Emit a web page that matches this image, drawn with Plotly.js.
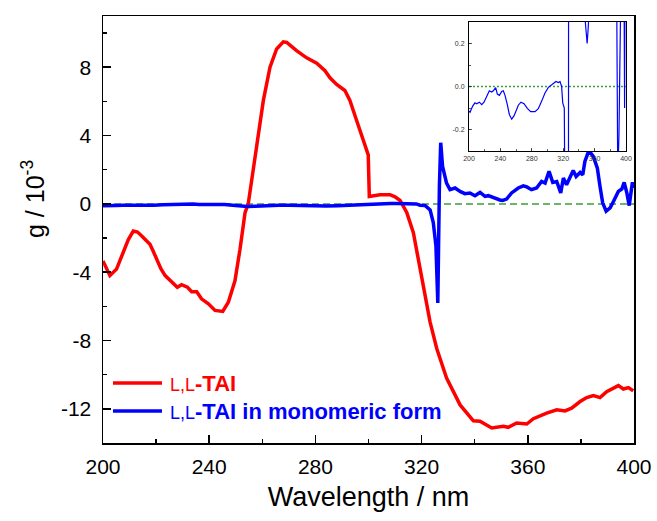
<!DOCTYPE html>
<html>
<head>
<meta charset="utf-8">
<script src="https://cdn.plot.ly/plotly-3.0.1.min.js"></script>
<style>
html,body{margin:0;padding:0;background:#fff;}
#chart{width:657px;height:521px;}
</style>
</head>
<body>
<div id="chart"></div>
<script>
// ---- data ----
const redX = [200, 202.6, 205.1, 207.6, 209.5, 211.4, 213, 214.6, 216.2, 217.7, 219, 220.2, 221.8, 223.4, 225.9, 228, 229.6, 231.8, 233.4, 235.3, 237.1, 239.7, 242.2, 245.1, 247.2, 249.7, 251.6, 253.5, 254.7, 257.2, 260.4, 262.9, 265.4, 267.9, 269.2, 272.9, 276.7, 280.5, 283.6, 285.5, 288, 291.1, 293, 295.5, 298, 299.9, 300.3, 304.3, 308.1, 310, 311.9, 314.4, 316.9, 318.8, 320.7, 323.2, 325.7, 329.4, 334.5, 339.5, 342, 346.4, 350.8, 352.6, 355.8, 359.6, 362.1, 367.1, 370.9, 374, 376.5, 379.7, 382.2, 384.7, 387.2, 389.7, 394.1, 396, 397.9, 399.7];
const redY = [-3.34, -4.2, -3.82, -2.85, -2.1, -1.59, -1.65, -1.88, -2.1, -2.37, -2.8, -3.24, -3.8, -4.2, -4.56, -4.88, -4.73, -4.88, -5.14, -5.14, -5.56, -5.85, -6.24, -6.3, -5.76, -4.5, -2.66, -0.52, 0, 2.77, 6.06, 8.0, 9.07, 9.49, 9.45, 8.97, 8.55, 8.23, 7.8, 7.38, 6.99, 6.64, 6.06, 4.9, 3.74, 2.87, 0.44, 0.54, 0.54, 0.41, 0.2, -0.5, -1.69, -3.24, -4.79, -6.92, -8.47, -10.2, -11.77, -12.7, -12.73, -13.12, -13.02, -13.08, -12.83, -12.89, -12.58, -12.25, -12.06, -12.12, -11.96, -11.57, -11.34, -11.22, -11.34, -10.99, -10.64, -10.84, -10.76, -10.95];

const blueX = [200, 201.3, 204.7, 207.6, 209.7, 213.2, 216.2, 219.1, 222.5, 225.9, 228.9, 231, 234, 236.1, 238.7, 241.6, 243.7, 245.8, 248.8, 251.4, 254.4, 257.3, 259.9, 262.8, 266.2, 270.1, 274.3, 278.6, 284.1, 288.3, 292.6, 296.8, 301.1, 305.4, 308.3, 310.8, 313.8, 316, 318, 319.4, 321.4, 323.2, 324.4, 325.4, 326.1, 326.7, 327.2, 327.9, 329.4, 330.7, 332.6, 334.5, 336.3, 338.2, 340.1, 342, 343.9, 345.1, 347, 349.5, 350.5, 352, 353.9, 356.4, 358.3, 359.6, 361.4, 363.3, 365.2, 366.5, 368, 369.4, 370.9, 372.4, 373.4, 374.6, 377.1, 378.2, 379.7, 380.7, 381.5, 383, 384.7, 386.2, 387.2, 388.2, 389.5, 391, 392.3, 394.1, 395.4, 396.3, 397.3, 398.2, 399.4, 399.8];
const blueY = [-0.114, -0.12, -0.091, -0.076, -0.08, -0.073, -0.084, -0.073, -0.046, -0.02, -0.026, -0.02, -0.005, -0.035, -0.041, -0.023, -0.02, -0.04, -0.084, -0.13, -0.152, -0.137, -0.114, -0.087, -0.073, -0.08, -0.102, -0.117, -0.117, -0.103, -0.068, -0.03, -0.004, 0.008, 0.018, 0.023, 0.018, 0.023, 0.0, -0.076, -0.1, -0.35, -1.1, -2.46, -5.8, 1.0, 3.58, 2.19, 1.22, 0.83, 0.93, 0.73, 0.6, 0.64, 0.48, 0.67, 0.44, 0.48, 0.35, 0.23, 0.2, 0.28, 0.64, 0.93, 1.06, 0.99, 0.83, 0.93, 1.31, 1.22, 1.9, 1.26, 1.31, 0.64, 1.51, 1.12, 1.95, 1.6, 1.84, 1.7, 2.48, 3.12, 2.77, 2.09, 1.02, 0.06, -0.43, -0.23, 0.15, 0.73, 0.87, 1.26, 0.64, -0.1, 1.26, 0.93];

const zeroX = [200, 400];
const zeroY = [0, 0];

// tick labels
const xTickVals = [200, 240, 280, 320, 360, 400];
const xTickText = ['200', '240', '280', '320', '360', '400'];
const yTickVals = [-12, -8, -4, 0, 4, 8];
const yTickText = ['-12', '-8', '-4', '0', '4', '8'];
const insetYTickVals = [-0.2, 0, 0.2];
const insetYTickText = ['-0.2', '0.0', '0.2'];

const seriesNames = ['L,L-TAI', 'L,L-TAI in monomeric form'];
const legendHtml = [
  '<span style="font-size:18px">L,L</span><b>-TAI</b>',
  '<span style="font-size:18px">L,L</span><b>-TAI in monomeric form</b>'
];
const RED = '#ff0000', BLUE = '#0000ff', GREEN = '#3c9e3c';
const FONT = 'Liberation Sans, Arial, Helvetica, sans-serif';

const traces = [
  {x: zeroX, y: zeroY, xaxis: 'x', yaxis: 'y', mode: 'lines', line: {color: GREEN, width: 1.5, dash: '7px,4px'}, showlegend: false},
  {x: redX, y: redY, xaxis: 'x', yaxis: 'y', mode: 'lines', name: seriesNames[0], line: {color: RED, width: 3.5}, showlegend: false},
  {x: blueX, y: blueY, xaxis: 'x', yaxis: 'y', mode: 'lines', name: seriesNames[1], line: {color: BLUE, width: 3.5}, showlegend: false},
  {x: zeroX, y: zeroY, xaxis: 'x2', yaxis: 'y2', mode: 'lines', line: {color: GREEN, width: 1.4, dash: '2px,2px'}, showlegend: false},
  {x: blueX, y: blueY, xaxis: 'x2', yaxis: 'y2', mode: 'lines', line: {color: BLUE, width: 1.2}, showlegend: false}
];

// plot box in px: left 103, right 634, top 16, bottom 443
const L = 103, R = 634, T = 16, B = 443;
const W = R - L, H = B - T;
const px = v => (v - L) / W;
const py = v => (B - v) / H;

const layout = {
  width: 657, height: 521,
  margin: {l: L, r: 657 - R, t: T, b: 521 - B, pad: 0},
  paper_bgcolor: '#fff', plot_bgcolor: '#fff',
  font: {family: FONT, color: '#000'},
  showlegend: false,
  xaxis: {
    domain: [0, 1], anchor: 'y', range: [200, 400],
    tickmode: 'array', tickvals: xTickVals, ticktext: xTickText,
    ticks: 'inside', ticklen: 8, tickwidth: 1.5, tickcolor: '#000',
    showline: true, linewidth: 1.5, linecolor: '#000', mirror: true,
    showgrid: false, zeroline: false,
    minor: {ticks: 'inside', ticklen: 4, tickwidth: 1.5, tick0: 200, dtick: 20, tickcolor: '#000', showgrid: false},
    tickfont: {size: 21, family: FONT, color: '#000'},
    ticklabelstandoff: 4,
    title: {text: 'Wavelength / nm', font: {size: 27, family: FONT, color: '#000'}, standoff: 10}
  },
  yaxis: {
    domain: [0, 1], anchor: 'x', range: [-14, 11],
    tickmode: 'array', tickvals: yTickVals, ticktext: yTickText,
    ticks: 'inside', ticklen: 8, tickwidth: 1.5, tickcolor: '#000',
    showline: true, linewidth: 1.5, linecolor: '#000', mirror: true,
    showgrid: false, zeroline: false,
    minor: {ticks: 'inside', ticklen: 4, tickwidth: 1.5, tick0: 0, dtick: 2, tickcolor: '#000', showgrid: false},
    tickfont: {size: 21, family: FONT, color: '#000'},
    ticklabelstandoff: 6
  },
  xaxis2: {
    domain: [px(469), px(626)], anchor: 'y2', range: [200, 400],
    tickmode: 'array', tickvals: xTickVals, ticktext: xTickText,
    ticks: 'inside', ticklen: 3, tickwidth: 0.8, tickcolor: '#333',
    showline: true, linewidth: 1, linecolor: '#000', mirror: true,
    showgrid: false, zeroline: false,
    minor: {ticks: 'inside', ticklen: 2, tickwidth: 0.8, tick0: 200, dtick: 20, tickcolor: '#333', showgrid: false},
    tickfont: {size: 7, family: FONT, color: '#333'},
    ticklabelstandoff: 1
  },
  yaxis2: {
    domain: [py(151), py(22)], anchor: 'x2', range: [-0.3, 0.3],
    tickmode: 'array', tickvals: insetYTickVals, ticktext: insetYTickText,
    ticks: 'inside', ticklen: 3, tickwidth: 0.8, tickcolor: '#333',
    showline: true, linewidth: 1, linecolor: '#000', mirror: true,
    showgrid: false, zeroline: false,
    minor: {ticks: 'inside', ticklen: 2, tickwidth: 0.8, tick0: 0, dtick: 0.1, tickcolor: '#333', showgrid: false},
    tickfont: {size: 7, family: FONT, color: '#333'},
    ticklabelstandoff: 2
  },
  shapes: [
    {type: 'line', xref: 'paper', yref: 'paper', x0: px(113), x1: px(162), y0: py(383), y1: py(383), line: {color: RED, width: 3.5}},
    {type: 'line', xref: 'paper', yref: 'paper', x0: px(113), x1: px(162), y0: py(411), y1: py(411), line: {color: BLUE, width: 3.5}}
  ],
  annotations: [
    {xref: 'paper', yref: 'paper', x: px(168), y: py(383), xanchor: 'left', yanchor: 'middle', showarrow: false,
     text: legendHtml[0], font: {size: 22, family: FONT, color: RED}},
    {xref: 'paper', yref: 'paper', x: px(168), y: py(411), xanchor: 'left', yanchor: 'middle', showarrow: false,
     text: legendHtml[1], font: {size: 22, family: FONT, color: BLUE}},
    {xref: 'paper', yref: 'paper', x: px(33), y: py(199), xanchor: 'center', yanchor: 'middle', showarrow: false,
     textangle: -90, text: 'g / 10<sup>-3</sup>', font: {size: 25, family: FONT, color: '#000'}}
  ]
};

Plotly.newPlot('chart', traces, layout, {displayModeBar: false, staticPlot: true});
</script>
</body>
</html>
